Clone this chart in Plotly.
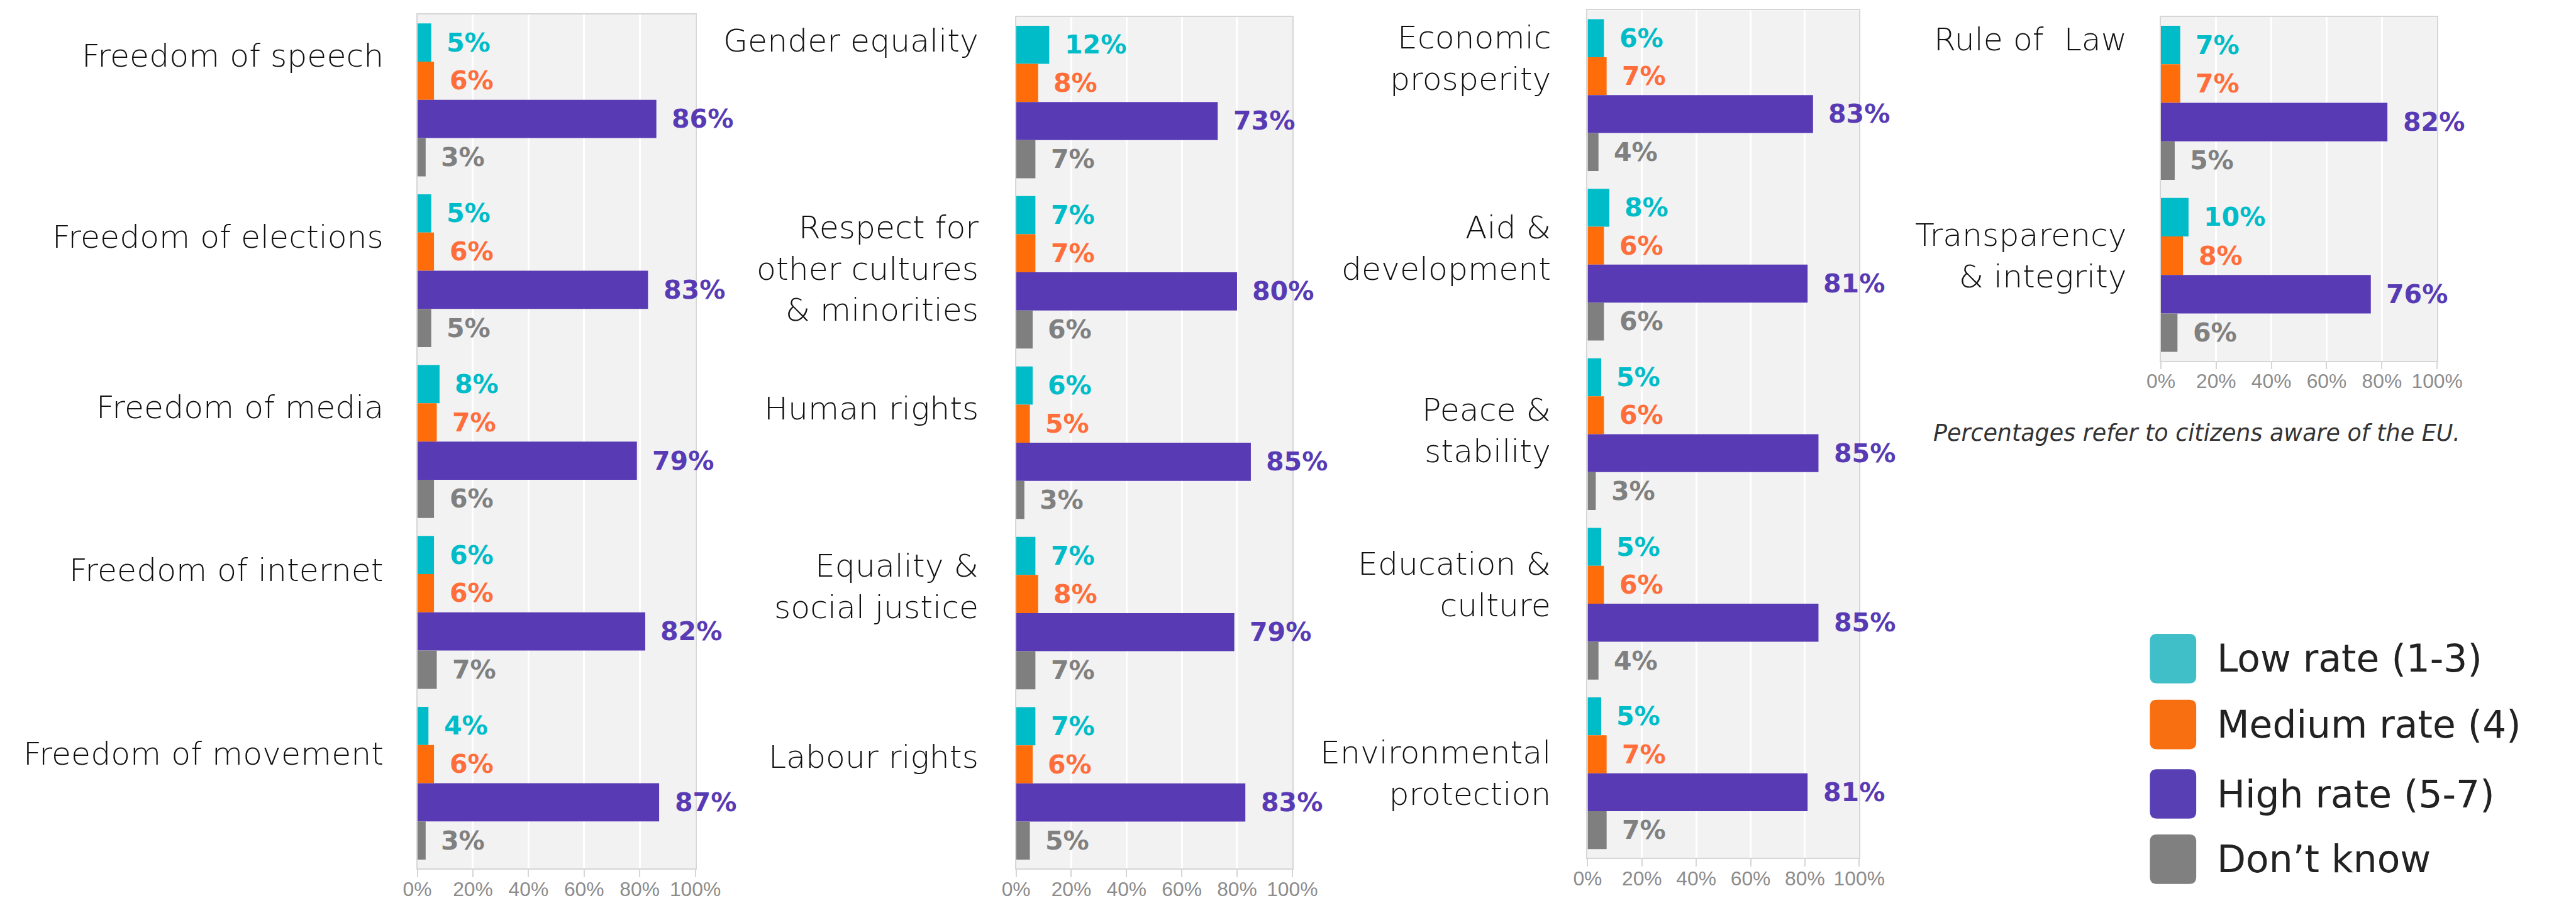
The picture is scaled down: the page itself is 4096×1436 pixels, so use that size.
import plotly.graph_objects as go

# ---------------- data ----------------
series_names = ["Low rate (1-3)", "Medium rate (4)", "High rate (5-7)", "Don’t know"]

p1_cats = ["Freedom of speech", "Freedom of elections", "Freedom of media",
           "Freedom of internet", "Freedom of movement"]
p1_low = [5, 5, 8, 6, 4]
p1_med = [6, 6, 7, 6, 6]
p1_high = [86, 83, 79, 82, 87]
p1_dk = [3, 5, 6, 7, 3]

p2_cats = ["Gender equality", "Respect for<br>other cultures<br>& minorities", "Human rights",
           "Equality &<br>social justice", "Labour rights"]
p2_low = [12, 7, 6, 7, 7]
p2_med = [8, 7, 5, 8, 6]
p2_high = [73, 80, 85, 79, 83]
p2_dk = [7, 6, 3, 7, 5]

p3_cats = ["Economic<br>prosperity", "Aid &<br>development", "Peace &<br>stability",
           "Education &<br>culture", "Environmental<br>protection"]
p3_low = [6, 8, 5, 5, 5]
p3_med = [7, 6, 6, 6, 7]
p3_high = [83, 81, 85, 85, 81]
p3_dk = [4, 6, 3, 4, 7]

p4_cats = ["Rule of  Law", "Transparency<br>& integrity"]
p4_low = [7, 10]
p4_med = [7, 8]
p4_high = [82, 76]
p4_dk = [5, 6]

x_ticks = [0, 20, 40, 60, 80, 100]
x_tick_labels = ["0%", "20%", "40%", "60%", "80%", "100%"]
note_text = "Percentages refer to citizens aware of the EU."

# ---------------- style ----------------
W, H = 4096, 1436
S = 0.935
RW, RH = 4379.0, 1535.0

bar_colors = ["#00BCC8", "#FF6D0A", "#583BB4", "#7F7F7F"]
label_colors = ["#00BCC8", "#FF6D3A", "#583BB4", "#808080"]
legend_colors = ["#40BFC8", "#F76F11", "#583FB4", "#808080"]

BARGAP = 0.105


def fx(px):
    return px / RW


def fy(py):
    return 1 - py / RH


panels = [
    dict(cats=p1_cats, vals=[p1_low, p1_med, p1_high, p1_dk], x0=687, x1=1167, y0=16, y1=1468,
         lab_shift=[75, 58, 58, 72, 50], lab_gap=55),
    dict(cats=p2_cats, vals=[p2_low, p2_med, p2_high, p2_dk], x0=1721, x1=2198, y0=20, y1=1468,
         lab_shift=[104, 6, 58, 45, 45], lab_gap=62),
    dict(cats=p3_cats, vals=[p3_low, p3_med, p3_high, p3_dk], x0=2708, x1=3177, y0=9, y1=1450,
         lab_shift=[63, 28, 6, 33, 0], lab_gap=60),
    dict(cats=p4_cats, vals=[p4_low, p4_med, p4_high, p4_dk], x0=3698, x1=4175, y0=20, y1=605,
         lab_shift=[108, 33], lab_gap=56),
]

fig = go.Figure()
annotations = []

TICK_FONT = dict(family="Liberation Sans, Arial, sans-serif", size=34 * S, color="#8C8C8C")
CAT_FONT = dict(family="DejaVu Sans, sans-serif", size=54 * S, color="#111111", weight=200)
VAL_FONT_FAMILY = "DejaVu Sans, sans-serif"

for pi, p in enumerate(panels):
    n = pi + 1
    xa = "x" if n == 1 else f"x{n}"
    ya = "y" if n == 1 else f"y{n}"
    for si in range(4):
        fig.add_trace(go.Bar(
            x=p["vals"][si], y=p["cats"], orientation="h",
            name=series_names[si], marker=dict(color=bar_colors[si], line=dict(width=0)),
            xaxis=xa, yaxis=ya, showlegend=False, hoverinfo="x+y",
        ))
    # value labels placed at the end of each bar
    bw = (1 - BARGAP) / 4
    for ci, c in enumerate(p["cats"]):
        for si in range(4):
            v = p["vals"][si][ci]
            ypos = ci - (1 - BARGAP) / 2 + (si + 0.5) * bw
            annotations.append(dict(
                x=v, y=ypos, xref=xa, yref=ya, text=f"<b>{v}%</b>", showarrow=False,
                xanchor="left", yanchor="middle", xshift=24 * S,
                font=dict(family=VAL_FONT_FAMILY, size=44 * S, color=label_colors[si]),
            ))
        # category label
        annotations.append(dict(
            x=0, xref=f"{xa} domain", y=ci, yref=ya, text=c, showarrow=False,
            xanchor="right", yanchor="middle", align="right",
            xshift=-p["lab_gap"] * S, yshift=p["lab_shift"][ci] * S,
            font=CAT_FONT,
        ))
    axis_common = dict(showline=True, linecolor="#D6D6D6", linewidth=2, mirror=True)
    fig.layout[f"xaxis{'' if n == 1 else n}"] = dict(
        domain=[fx(p["x0"]), fx(p["x1"])], anchor=ya, range=[0, 100],
        tickvals=x_ticks, ticktext=x_tick_labels, tickfont=TICK_FONT,
        showgrid=True, gridcolor="#FFFFFF", gridwidth=3, zeroline=False,
        ticks="outside", ticklen=12 * S, tickcolor="#D6D6D6", tickwidth=2,
        ticklabelstandoff=-8, fixedrange=True, **axis_common,
    )
    fig.layout[f"yaxis{'' if n == 1 else n}"] = dict(
        domain=[fy(p["y1"]), fy(p["y0"])], anchor=xa, autorange="reversed",
        showticklabels=False, ticks="", showgrid=False, zeroline=False,
        fixedrange=True, **axis_common,
    )
    # grey plot background
    fig.add_shape(type="rect", xref=f"{xa} domain", yref=f"{ya} domain",
                  x0=0, x1=1, y0=0, y1=1, fillcolor="#F2F2F2", line=dict(width=0),
                  layer="below")

# note
annotations.append(dict(
    x=fx(3760), y=fy(727), xref="paper", yref="paper", text=f"<i>{note_text}</i>",
    showarrow=False, xanchor="center", yanchor="middle",
    font=dict(family="DejaVu Sans, sans-serif", size=39 * S, color="#333333", weight=200),
))

# legend (manual)
leg_rows = [1111, 1223, 1341, 1452]
sq_x0, sq_x1 = 3679, 3759
for i, name in enumerate(series_names):
    cy = leg_rows[i]
    x0, x1 = fx(sq_x0), fx(sq_x1)
    y0, y1 = fy(cy + 42), fy(cy - 42)
    rx = 12 / RW
    ry = 12 / RH
    path = (f"M {x0+rx},{y0} L {x1-rx},{y0} Q {x1},{y0} {x1},{y0+ry} "
            f"L {x1},{y1-ry} Q {x1},{y1} {x1-rx},{y1} L {x0+rx},{y1} "
            f"Q {x0},{y1} {x0},{y1-ry} L {x0},{y0+ry} Q {x0},{y0} {x0+rx},{y0} Z")
    fig.add_shape(type="path", path=path, xref="paper", yref="paper",
                  fillcolor=legend_colors[i], line=dict(width=0))
    annotations.append(dict(
        x=fx(3792), y=fy(cy), xref="paper", yref="paper", text=name, showarrow=False,
        xanchor="left", yanchor="middle",
        font=dict(family="DejaVu Sans, sans-serif", size=64 * S, color="#222222"),
    ))

fig.update_layout(
    width=W, height=H, margin=dict(l=0, r=0, t=0, b=0),
    paper_bgcolor="white", plot_bgcolor="rgba(0,0,0,0)",
    barmode="group", bargap=BARGAP, bargroupgap=0,
    annotations=annotations, showlegend=False,
)

fig.write_html("out.html")
